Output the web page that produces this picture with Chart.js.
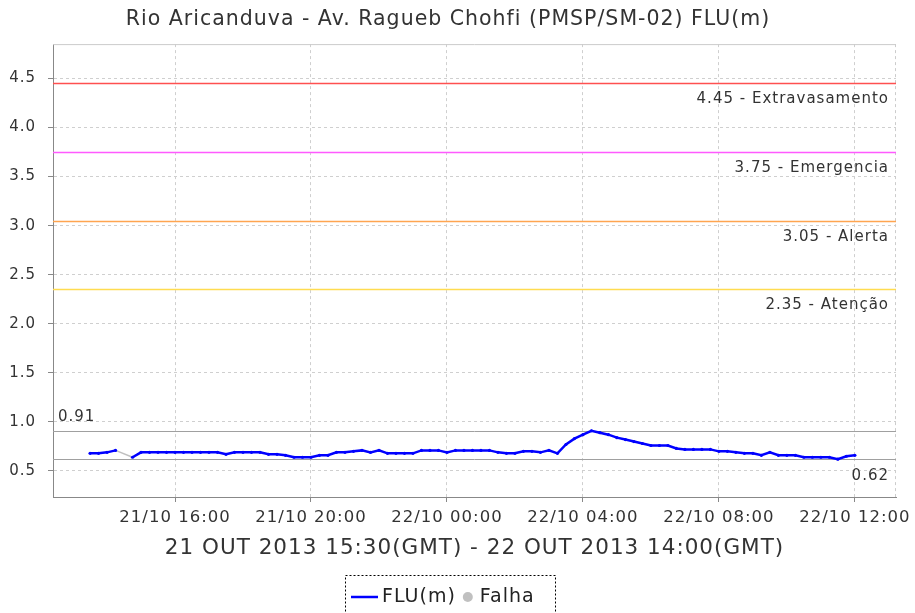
<!DOCTYPE html>
<html>
<head>
<meta charset="utf-8">
<script src="https://cdn.jsdelivr.net/npm/chart.js@4"></script>
<style>
html, body { margin: 0; padding: 0; background: #fff; }
</style>
</head>
<body>
<canvas id="myChart" width="915" height="613"></canvas>
<script>
// leituras a cada 15 min, horas contadas desde 21/10 00:00 (hora local)
const startHour = 13.5;
const stepHours = 0.25;
const fluValues = [
	0.68, 0.68, 0.69, 0.71, null, 0.64, 0.69, 0.69, 0.69, 0.69,
	0.69, 0.69, 0.69, 0.69, 0.69, 0.69, 0.67, 0.69, 0.69, 0.69,
	0.69, 0.67, 0.67, 0.66, 0.64, 0.64, 0.64, 0.66, 0.66, 0.69,
	0.69, 0.70, 0.71, 0.69, 0.71, 0.68, 0.68, 0.68, 0.68, 0.71,
	0.71, 0.71, 0.69, 0.71, 0.71, 0.71, 0.71, 0.71, 0.69, 0.68,
	0.68, 0.70, 0.70, 0.69, 0.71, 0.68, 0.77, 0.83, 0.87, 0.91,
	0.89, 0.87, 0.84, 0.82, 0.80, 0.78, 0.76, 0.76, 0.76, 0.73,
	0.72, 0.72, 0.72, 0.72, 0.70, 0.70, 0.69, 0.68, 0.68, 0.66,
	0.69, 0.66, 0.66, 0.66, 0.64, 0.64, 0.64, 0.64, 0.62, 0.65,
	0.66
];

// trecho sem dados (falha)
const falhaHours = [14.25, 14.75];
const falhaValues = [0.71, 0.64];

const xTickHours = [16, 20, 24, 28, 32, 36];
const xTickLabels = ['21/10 16:00', '21/10 20:00', '22/10 00:00', '22/10 04:00', '22/10 08:00', '22/10 12:00'];
const yTicks = [0.5, 1.0, 1.5, 2.0, 2.5, 3.0, 3.5, 4.0, 4.5];

const thresholdValues = [4.45, 3.75, 3.05, 2.35];
const thresholdNames = ['Extravasamento', 'Emergencia', 'Alerta', 'Atenção'];
const thresholdColors = ['rgb(255,80,80)', 'rgb(255,90,255)', 'rgb(255,165,80)', 'rgb(255,220,80)'];

const maxValue = 0.91;
const minValue = 0.62;

const fontFamily = '"DejaVu Sans", sans-serif';

const fluPoints = fluValues.map((v, i) => ({ x: startHour + i * stepHours, y: v }));
const falhaPoints = falhaHours.map((h, i) => ({ x: h, y: falhaValues[i] }));

const overlay = {
	id: 'overlay',
	beforeLayout(chart) {
		// texto mais espaçado, como no original
		chart.ctx.letterSpacing = '1px';
	},
	beforeDatasetsDraw(chart) {
		const { ctx, chartArea: a, scales: { y } } = chart;
		ctx.save();
		// moldura superior e direita
		ctx.strokeStyle = '#cccccc';
		ctx.lineWidth = 1;
		ctx.beginPath();
		ctx.moveTo(a.left, a.top + 0.5);
		ctx.lineTo(a.right, a.top + 0.5);
		ctx.stroke();
		ctx.setLineDash([3, 3]);
		ctx.beginPath();
		ctx.moveTo(a.right - 0.5, a.top);
		ctx.lineTo(a.right - 0.5, a.bottom);
		ctx.stroke();
		ctx.setLineDash([]);

		[maxValue, minValue].forEach(v => {
			const py = Math.round(y.getPixelForValue(v)) + 0.5;
			ctx.strokeStyle = '#a0a0a0';
			ctx.beginPath();
			ctx.moveTo(a.left, py);
			ctx.lineTo(a.right, py);
			ctx.stroke();
		});
		ctx.lineWidth = 1.5;
		thresholdValues.forEach((v, i) => {
			const py = Math.round(y.getPixelForValue(v)) + 0.5;
			ctx.strokeStyle = thresholdColors[i];
			ctx.beginPath();
			ctx.moveTo(a.left, py);
			ctx.lineTo(a.right, py);
			ctx.stroke();
		});
		ctx.restore();
	},
	afterDraw(chart) {
		const { ctx, chartArea: a, scales: { y } } = chart;
		ctx.save();
		ctx.fillStyle = '#333333';
		ctx.font = '15px ' + fontFamily;
		ctx.letterSpacing = '1px';
		ctx.textBaseline = 'middle';
		ctx.textAlign = 'right';
		thresholdValues.forEach((v, i) => {
			const py = y.getPixelForValue(v);
			ctx.fillText(v.toFixed(2) + ' - ' + thresholdNames[i], a.right - 7, py + 16);
		});
		ctx.fillText(minValue.toFixed(2), a.right - 7, y.getPixelForValue(minValue) + 17);
		ctx.textAlign = 'left';
		ctx.fillText(maxValue.toFixed(2), a.left + 5, y.getPixelForValue(maxValue) - 14);

		// legenda
		const boxX = 345.5, boxY = 575.5, boxW = 210;
		ctx.strokeStyle = '#000';
		ctx.lineWidth = 1;
		ctx.setLineDash([2, 2]);
		ctx.strokeRect(boxX, boxY, boxW, 60);
		ctx.setLineDash([]);
		const ly = 597;
		ctx.strokeStyle = '#0000ff';
		ctx.lineWidth = 2.5;
		ctx.beginPath();
		ctx.moveTo(351, ly);
		ctx.lineTo(378, ly);
		ctx.stroke();
		ctx.font = '19px ' + fontFamily;
		ctx.fillStyle = '#222';
		ctx.fillText('FLU(m)', 382, ly);
		const dotX = 382 + ctx.measureText('FLU(m)').width + 12;
		ctx.fillStyle = '#c0c0c0';
		ctx.beginPath();
		ctx.arc(dotX, ly, 5, 0, Math.PI * 2);
		ctx.fill();
		ctx.fillStyle = '#222';
		ctx.fillText('Falha', dotX + 12, ly);
		ctx.restore();
	}
};

const myChart = new Chart(document.getElementById('myChart').getContext('2d'), {
	type: 'line',
	data: {
		datasets: [{
			label: 'FLU(m)',
			data: fluPoints,
			borderColor: '#0000ff',
			backgroundColor: '#0000ff',
			borderWidth: 2.5,
			pointRadius: 1.6,
			pointBorderWidth: 0,
			tension: 0,
			spanGaps: false
		}, {
			label: 'Falha',
			data: falhaPoints,
			borderColor: '#c0c0c0',
			backgroundColor: '#c0c0c0',
			borderWidth: 1.5,
			pointRadius: 0,
			tension: 0
		}]
	},
	options: {
		responsive: false,
		animation: false,
		devicePixelRatio: 1,
		layout: { padding: { left: 0, right: 19, top: 0, bottom: 52 } },
		plugins: {
			legend: { display: false },
			tooltip: { enabled: false },
			title: {
				display: true,
				text: 'Rio Aricanduva - Av. Ragueb Chohfi (PMSP/SM-02) FLU(m)',
				color: '#333',
				font: { family: fontFamily, size: 20.5, weight: 'normal' },
				padding: { top: 7, bottom: 12.5 }
			}
		},
		scales: {
			x: {
				type: 'linear',
				min: 12.41,
				max: 37.21,
				afterBuildTicks: axis => { axis.ticks = xTickHours.map(v => ({ value: v })); },
				afterFit: axis => {
					axis.height = 64;
					axis.paddingLeft = 0;
					axis.paddingRight = 0;
				},
				ticks: {
					autoSkip: false,
					maxRotation: 0,
					padding: 6,
					color: '#333',
					font: { family: fontFamily, size: 16.5 },
					callback: v => xTickLabels[xTickHours.indexOf(v)]
				},
				grid: { color: '#cfcfcf', tickColor: '#888', tickLength: 5 },
				border: { color: '#888', dash: [3, 3] },
				title: {
					display: true,
					text: '21 OUT 2013 15:30(GMT) - 22 OUT 2013 14:00(GMT)',
					color: '#333',
					font: { family: fontFamily, size: 21.5 },
					padding: { top: 0, bottom: 0 }
				}
			},
			y: {
				min: 0.235,
				max: 4.85,
				afterBuildTicks: axis => { axis.ticks = yTicks.map(v => ({ value: v })); },
				afterFit: axis => {
					axis.width = 53;
					axis.paddingTop = 0;
					axis.paddingBottom = 0;
				},
				ticks: {
					padding: 12,
					color: '#333',
					font: { family: fontFamily, size: 15 },
					callback: v => v.toFixed(1)
				},
				grid: { color: '#cfcfcf', tickColor: '#888', tickLength: 5 },
				border: { color: '#888', dash: [3, 3] }
			}
		}
	},
	plugins: [overlay]
});
</script>
</body>
</html>
